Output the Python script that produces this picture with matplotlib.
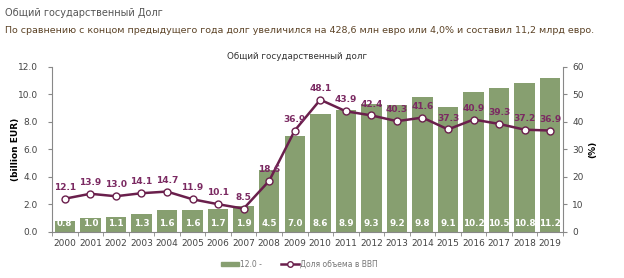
import matplotlib.pyplot as plt
from matplotlib.lines import Line2D
from matplotlib.patches import Patch
import numpy as np

years = ['2000', '2001', '2002', '2003', '2004', '2005', '2006', '2007', '2008', '2009',
         '2010', '2011', '2012', '2013', '2014', '2015', '2016', '2017', '2018', '2019']
debt = [0.8, 1.0, 1.1, 1.3, 1.6, 1.6, 1.7, 1.9, 4.5, 7.0,
        8.6, 8.9, 9.3, 9.2, 9.8, 9.1, 10.2, 10.5, 10.8, 11.2]
share_gdp = [12.1, 13.9, 13.0, 14.1, 14.7, 11.9, 10.1, 8.5, 18.6, 36.9,
             48.1, 43.9, 42.4, 40.3, 41.6, 37.3, 40.9, 39.3, 37.2, 36.9]

bar_col = '#879f70'
line_col = '#6a1f4c'
lab_col = '#7b2a62'
tick_col = '#444444'

fig = plt.figure(figsize=(6.24, 2.78), dpi=100)
fig.text(0.008, 0.97, 'Общий государственный Долг', fontsize=7, color='#555555', va='top')
fig.text(0.008, 0.905, 'По сравнению с концом предыдущего года долг увеличился на 428,6 млн евро или 4,0% и составил 11,2 млрд евро.',
         fontsize=6.8, color='#5c4326', va='top')

ax = fig.add_axes([0.0833, 0.1655, 0.819, 0.5935])
x = np.arange(len(years))
ax.bar(x, debt, width=0.8, color=bar_col, zorder=1)
for xi, v in zip(x, debt):
    ax.text(xi, 0.6, f'{v:.1f}', ha='center', va='center', color='white',
            fontsize=6.3, fontweight='bold')
ax.set_ylim(0, 12)
ax.set_yticks(np.arange(0, 12.1, 2))
ax.set_yticklabels([f'{v:.1f}' for v in np.arange(0, 12.1, 2)])
ax.set_xlim(-0.45, 19.5)
ax.set_xticks(x)
ax.set_xticklabels(years)
ax.set_xticks(np.arange(-0.5, 19.6, 1), minor=True)
ax.tick_params(axis='x', which='major', length=0, pad=5)
ax.tick_params(axis='x', which='minor', length=3, color='#888888')
ax.tick_params(axis='both', labelsize=6.5, labelcolor=tick_col)
ax.tick_params(axis='y', length=3, color='#888888', pad=7)
for s in ['top', 'right']:
    ax.spines[s].set_visible(False)
ax.spines['left'].set_color('#888888')
ax.spines['bottom'].set_color('#888888')
ax.set_ylabel('(billion EUR)', fontsize=6.5, fontweight='bold')
ax.yaxis.set_label_coords(-0.063, 0.5)
ax.set_title('Общий государственный долг', fontsize=6.3, color='#333333', pad=6, x=0.48)

ax2 = ax.twinx()
ax2.plot(x, share_gdp, color=line_col, lw=1.8, marker='o', ms=5,
         mfc='white', mec=line_col, mew=1, zorder=3)
for xi, v in zip(x, share_gdp):
    ax2.text(xi, v + 2.5, f'{v:.1f}', ha='center', va='bottom', color=lab_col,
             fontsize=6.5, fontweight='bold')
ax2.set_ylim(0, 60)
ax2.set_yticks(np.arange(0, 61, 10))
ax2.tick_params(axis='y', labelsize=6.5, labelcolor=tick_col, length=3, color='#888888')
for s in ['top', 'left', 'bottom']:
    ax2.spines[s].set_visible(False)
ax2.spines['right'].set_color('#888888')
ax2.set_ylabel('(%)', fontsize=6.5, fontweight='bold')
ax2.yaxis.set_label_coords(1.049, 0.5)

handles = [Patch(color=bar_col), Line2D([0], [0], color=line_col, lw=1.8, marker='o', ms=4,
                                         mfc='white', mec=line_col)]
fig.legend(handles, ['12.0 -', 'Доля объема в ВВП'], loc='center', bbox_to_anchor=(0.48, 0.05),
           ncol=2, frameon=False, fontsize=5.5, handlelength=2.4, handleheight=0.35,
           columnspacing=2.5, handletextpad=0.1, labelcolor='#777777')

fig.savefig('out.png', dpi=100)
